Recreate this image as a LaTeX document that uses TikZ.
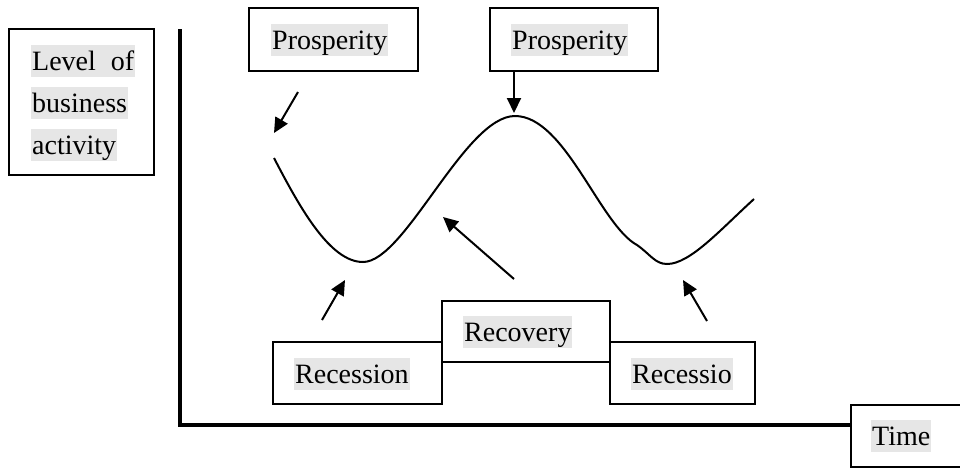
\documentclass[tikz,border=0pt]{standalone}
\usepackage{fontspec}
\setmainfont{Liberation Serif}
\usetikzlibrary{arrows.meta}
\definecolor{hl}{HTML}{E6E6E6}
\begin{document}
\begin{tikzpicture}[x=1pt,y=-1pt,
  box/.style={draw,line width=1.7pt,fill=white,inner sep=0pt},
  lbl/.style={anchor=base west,fill=hl,inner xsep=1pt,inner ysep=0pt,
    text height=25pt,text depth=7pt,font=\fontsize{28}{34}\selectfont},
  axis/.style={line width=4.5pt},
  cycle/.style={line width=2pt},
  arr/.style={line width=2pt,-{Triangle[length=15pt,width=14pt]}}]
\useasboundingbox (0,0) rectangle (960,467);

% axes
\coordinate (ytop) at (180,29);
\coordinate (origin) at (180,425);

% boxes
\node[box,minimum width=145pt,minimum height=146pt] (lvl) at (81.5,102) {};
\node[box,minimum width=169pt,minimum height=63pt] (p1) at (333.5,39.5) {};
\node[box,minimum width=168pt,minimum height=63pt] (p2) at (574,39.5) {};
\node[box,minimum width=169pt,minimum height=62pt] (rec1) at (357.5,373) {};
\node[box,minimum width=145pt,minimum height=62pt] (rec2) at (682.5,373) {};
\node[box,minimum width=168pt,minimum height=61pt] (recov) at (526,331.5) {};
\node[box,minimum width=114pt,minimum height=62pt,anchor=north west] (time) at (850,404) {};

\draw[axis] (ytop) -- (origin) -- (origin -| time.west);

% labels
\node[lbl] (l1) at (31,70) {\makebox[102pt][s]{Level of}};
\node[lbl] (l2) at (31,112) {business};
\node[lbl] (l3) at (31,154) {activity};
\node[lbl] (tp1) at (271,49) {Prosperity};
\node[lbl] (tp2) at (511,49) {Prosperity};
\node[lbl] (trec1) at (294,383) {Recession};
\node[lbl] (trecov) at (463,341) {Recovery};
\node[lbl] (trec2) at (631,383) {Recessio};
\node[lbl] (ttime) at (871,445) {Time};

% business cycle curve
\coordinate (c0) at (274,158);
\coordinate (trough1) at (363,262);
\coordinate (peak) at (515,116);
\coordinate (trough2) at (667,264);
\coordinate (c4) at (754,199);
\draw[cycle] (c0) .. controls (300,208) and (330,262) .. (trough1)
  .. controls (405,262) and (465,116) .. (peak)
  .. controls (565,116) and (600,225) .. (637,245)
  .. controls (650,254) and (655,264) .. (trough2)
  .. controls (690,264) and (720,230) .. (c4);

% arrows
\coordinate (a1s) at (298,92);
\coordinate (a1e) at (274,133);
\coordinate (a2s) at (514,71);
\coordinate (a2e) at (514,113);
\coordinate (a3s) at (322,320);
\coordinate (a3e) at (345,280);
\coordinate (a4s) at (514,279);
\coordinate (a4e) at (443,217);
\coordinate (a5s) at (707,321);
\coordinate (a5e) at (683,280);
\draw[arr] (a1s) -- (a1e);
\draw[arr] (a2s) -- (a2e);
\draw[arr] (a3s) -- (a3e);
\draw[arr] (a4s) -- (a4e);
\draw[arr] (a5s) -- (a5e);
\end{tikzpicture}
\end{document}
